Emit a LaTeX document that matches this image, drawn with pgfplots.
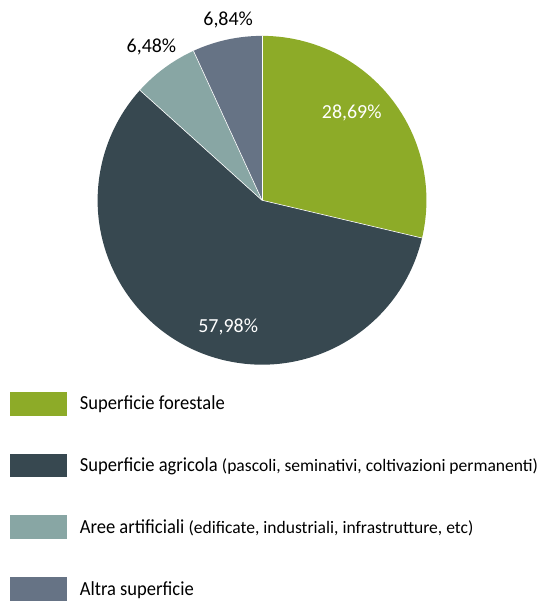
\documentclass[border=0pt]{standalone}
\usepackage{pgfplots}
\pgfplotsset{compat=1.18}
\usepackage{fontspec}
\setmainfont{Carlito}[FakeStretch=0.93]
\newfontfamily\widefont{Carlito}

\definecolor{cForest}{HTML}{8DAB28}
\definecolor{cAgri}{HTML}{374850}
\definecolor{cArt}{HTML}{88A6A4}
\definecolor{cOther}{HTML}{667385}

% shares in percent
\def\vForest{28.69}
\def\vAgri{57.98}
\def\vArt{6.48}
\def\vOther{6.84}
\pgfmathsetmacro\aA{90}
\pgfmathsetmacro\aB{\aA-3.6*\vForest}
\pgfmathsetmacro\aC{\aB-3.6*\vAgri}
\pgfmathsetmacro\aD{\aC-3.6*\vArt}
\pgfmathsetmacro\aE{\aD-3.6*\vOther}

\newcommand\notefont{\widefont\fontsize{17.6}{19}\selectfont}
\tikzset{pct/.style={font=\widefont\fontsize{20}{22}\selectfont}}

\begin{document}
\begin{tikzpicture}
\begin{axis}[
    x=1pt, y=1pt,
    xmin=0, xmax=543, ymin=0, ymax=601,
    scale only axis, hide axis, clip=false,
    legend cell align=left,
    legend style={at={(axis cs:10,208)}, anchor=north west,
      draw=none, fill=none, inner sep=0pt, row sep=38pt,
      font=\fontsize{20}{22}\selectfont},
    legend image code/.code={\path[#1, draw=none] (0pt,-12pt) rectangle (57pt,12pt);
      \path[draw=none, fill=none] (0pt,0pt) -- (68pt,0pt);},
  ]
  \path (axis cs:0,0) rectangle (axis cs:543,601);
  \fill[cForest] (axis cs:263,400) -- ++(\aA:165pt) arc[start angle=\aA, end angle=\aB, radius=165pt] -- cycle;
  \fill[cAgri] (axis cs:263,400) -- ++(\aB:165pt) arc[start angle=\aB, end angle=\aC, radius=165pt] -- cycle;
  \fill[cArt] (axis cs:263,400) -- ++(\aC:165pt) arc[start angle=\aC, end angle=\aD, radius=165pt] -- cycle;
  \fill[cOther] (axis cs:263,400) -- ++(\aD:165pt) arc[start angle=\aD, end angle=\aE, radius=165pt] -- cycle;
  \draw[white, line width=0.6pt] (axis cs:263,400) -- ++(\aA:165pt);
  \draw[white, line width=0.6pt] (axis cs:263,400) -- ++(\aB:165pt);
  \draw[white, line width=0.6pt] (axis cs:263,400) -- ++(\aC:165pt);
  \draw[white, line width=0.6pt] (axis cs:263,400) -- ++(\aD:165pt);

  \node[white, pct] at (axis cs:353,488) {28,69\%};
  \node[white, pct] at (axis cs:229,273) {57,98\%};
  \node[black, pct] at (axis cs:152,554) {6,48\%};
  \node[black, pct] at (axis cs:229,581) {6,84\%};

  \addlegendimage{fill=cForest}
  \addlegendentry{Superficie forestale}
  \addlegendimage{fill=cAgri}
  \addlegendentry{Superficie agricola {\notefont(pascoli, seminativi, coltivazioni permanenti)}}
  \addlegendimage{fill=cArt}
  \addlegendentry{Aree artificiali {\notefont(edificate, industriali, infrastrutture, etc)}}
  \addlegendimage{fill=cOther}
  \addlegendentry{Altra superficie}
\end{axis}
\end{tikzpicture}
\end{document}
